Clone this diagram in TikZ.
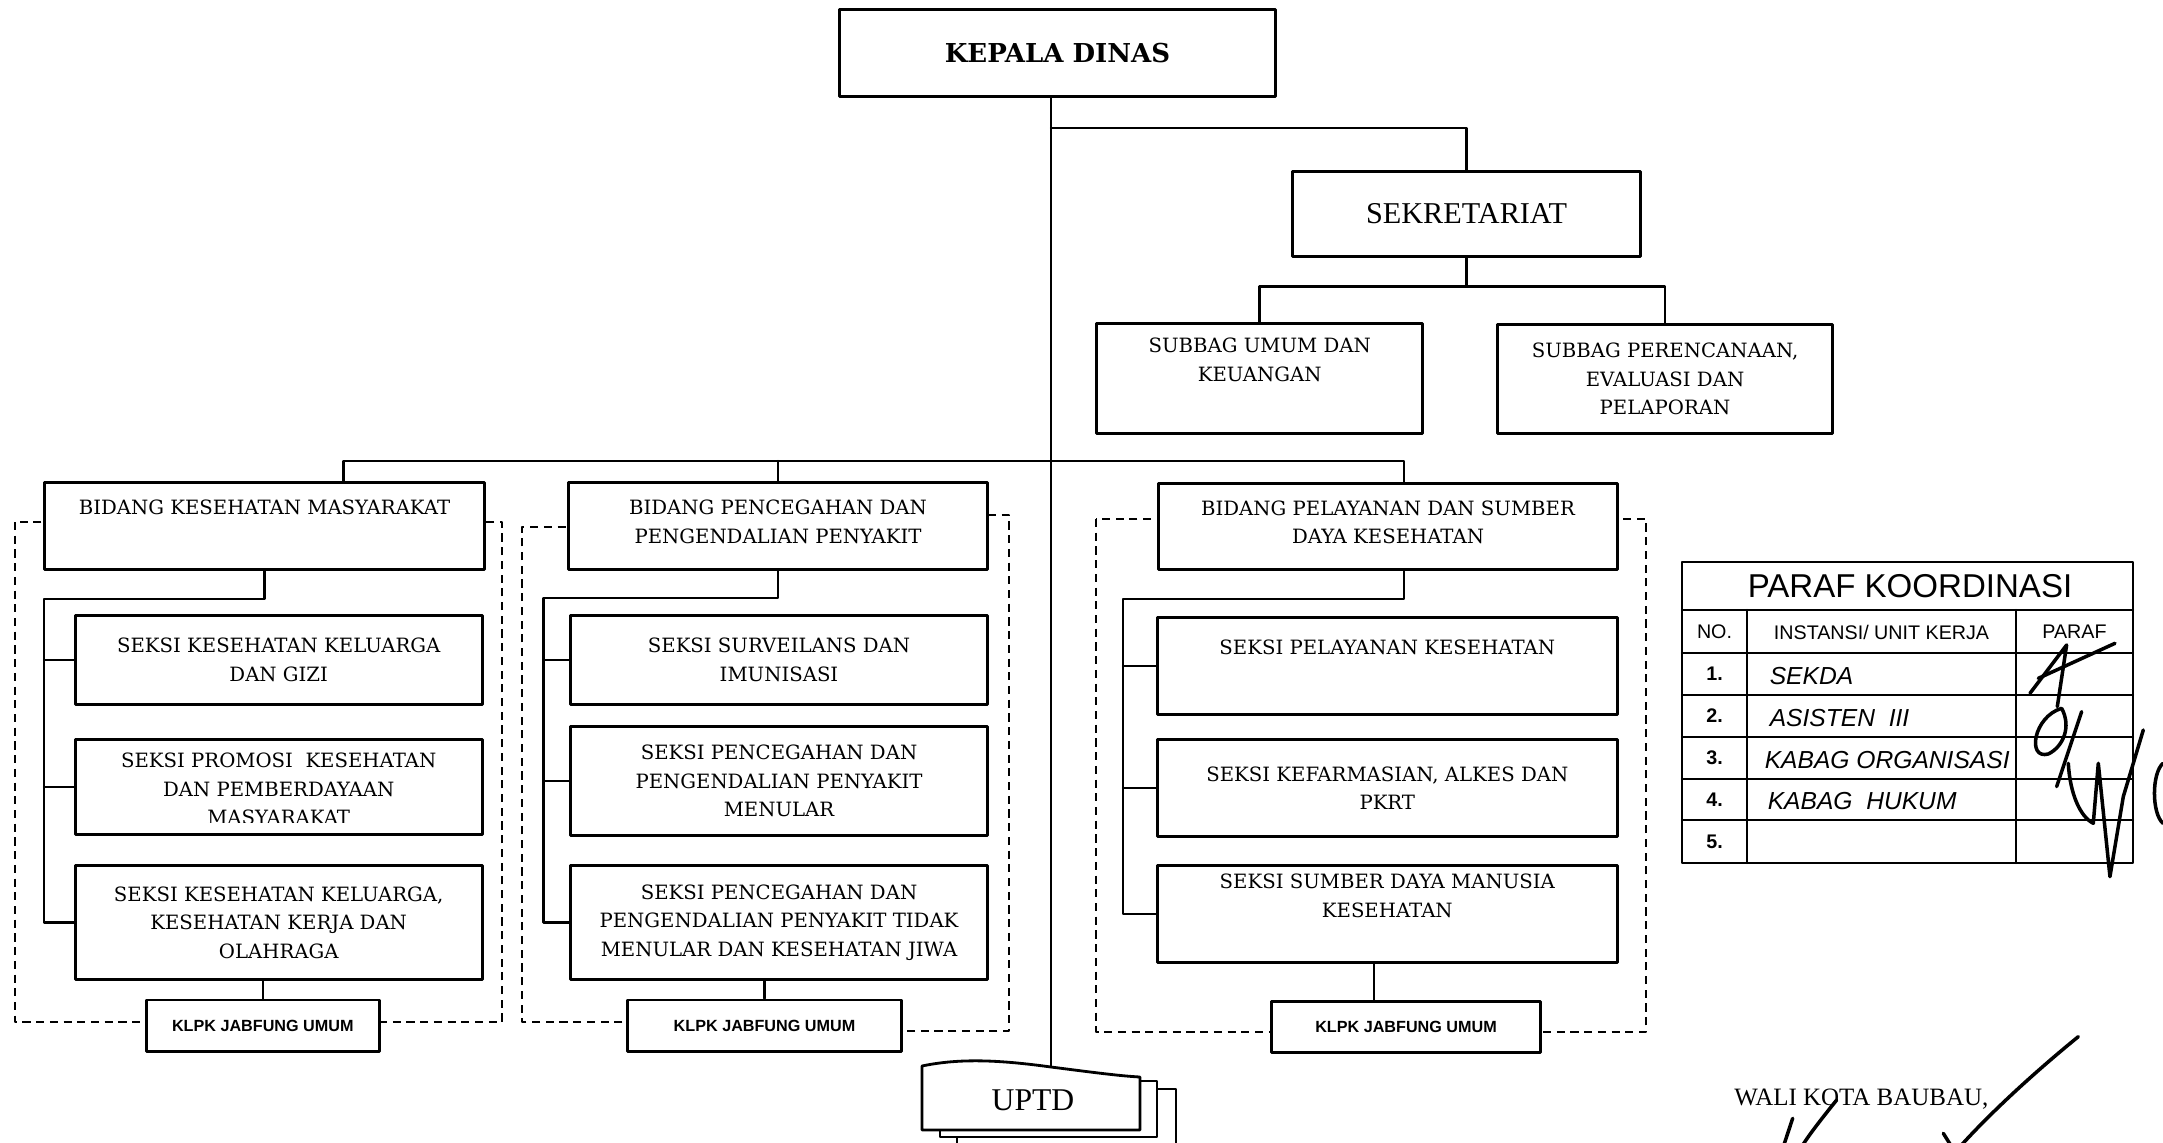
\documentclass[tikz,border=0pt]{standalone}
\usepackage{fontspec}
\setmainfont{DejaVu Serif}
\newfontfamily\timesf{Liberation Serif}
\newfontfamily\arialf{Liberation Sans}
\begin{document}
\begin{tikzpicture}[x=0.01cm, y=-0.01cm, line join=round, line cap=round,
	font=\fontsize{5.6}{8.1}\selectfont,
	kotak/.style={draw, line width=0.85pt, fill=white, inner sep=0pt, align=center},
	seksi/.style={kotak, minimum width=#1},
	jabfung/.style={kotak, minimum width=#1, minimum height=0.51cm, font=\arialf\bfseries\fontsize{4.6}{5}\selectfont},
	garis/.style={line width=0.7pt},
	bingkai/.style={line width=0.7pt, dash pattern=on 2.3pt off 1.6pt, line cap=butt},
	ttd/.style={line width=1pt}]
	\useasboundingbox (0,0) rectangle (2163,1142);
	\clip (0,0) rectangle (2163,1142);
	
	\draw[bingkai] (15,522) rectangle (502,1022);
	\draw[bingkai] (700,515) -- (1009,515) -- (1009,1031) -- (760,1031) -- (760,1022) -- (522,1022) -- (522,527) -- (700,527) -- cycle;
	\draw[bingkai] (1096,519) rectangle (1646,1032);
	
	\node[kotak, minimum width=4.35cm, minimum height=0.86cm, font=\bfseries\fontsize{7.4}{9}\selectfont] (kadis) at (1057.5,53) {KEPALA DINAS};
	\node[kotak, minimum width=3.48cm, minimum height=0.84cm, font=\timesf\fontsize{8.6}{10}\selectfont] (sek) at (1466.5,214) {SEKRETARIAT};
	\node[kotak, minimum width=3.26cm, minimum height=1.10cm] (umum) at (1259.7,378.4) {SUBBAG UMUM DAN\\KEUANGAN\\\strut};
	\node[kotak, minimum width=3.34cm, minimum height=1.08cm] (renc) at (1665,379) {SUBBAG PERENCANAAN,\\EVALUASI DAN\\PELAPORAN};
	
	\node[kotak, minimum width=4.39cm, minimum height=0.86cm] (bid1) at (264.5,526) {BIDANG KESEHATAN MASYARAKAT\\\strut};
	\node[kotak, minimum width=4.185cm, minimum height=0.86cm] (bid2) at (778,526) {BIDANG PENCEGAHAN DAN\\PENGENDALIAN PENYAKIT\\[-5.7pt]\mbox{}};
	\node[kotak, minimum width=4.59cm, minimum height=0.86cm] (bid3) at (1388,526.5) {BIDANG PELAYANAN DAN SUMBER\\DAYA KESEHATAN\\[-5.7pt]\mbox{}};
	
	\node[seksi=4.07cm, minimum height=0.88cm] (kesga) at (278.7,660) {SEKSI KESEHATAN KELUARGA\\DAN GIZI};
	\node[seksi=4.07cm, minimum height=0.95cm] (promkes) at (278.7,787) {};
	\begin{scope}
		\clip (promkes.north west) rectangle ([yshift=0.14cm]promkes.south east);
		\node[align=center] (promkestxt) at (278.7,789) {SEKSI PROMOSI\ \ KESEHATAN\\DAN PEMBERDAYAAN\\MASYARAKAT};
	\end{scope}
	\node[seksi=4.07cm, minimum height=1.14cm] (kesker) at (278.7,922.5) {SEKSI KESEHATAN KELUARGA,\\KESEHATAN KERJA DAN\\OLAHRAGA};
	
	\node[seksi=4.167cm, minimum height=0.885cm] (surv) at (779,660) {SEKSI SURVEILANS DAN\\IMUNISASI};
	\node[seksi=4.167cm, minimum height=1.08cm] (p2pm) at (779,781) {SEKSI PENCEGAHAN DAN\\PENGENDALIAN PENYAKIT\\MENULAR};
	\node[seksi=4.167cm, minimum height=1.136cm] (p2ptm) at (779,922.6) {SEKSI PENCEGAHAN DAN\\PENGENDALIAN PENYAKIT TIDAK\\MENULAR DAN KESEHATAN JIWA};
	
	\node[seksi=4.593cm, minimum height=0.974cm] (yankes) at (1387.3,666) {SEKSI PELAYANAN KESEHATAN\\\strut};
	\node[seksi=4.593cm, minimum height=0.963cm] (farmalkes) at (1387.3,788) {SEKSI KEFARMASIAN, ALKES DAN\\PKRT};
	\node[seksi=4.593cm, minimum height=0.963cm] (sdmk) at (1387.3,914) {SEKSI SUMBER DAYA MANUSIA\\KESEHATAN\\\strut};
	
	\node[jabfung=2.33cm] (jf1) at (262.8,1025.5) {KLPK JABFUNG UMUM};
	\node[jabfung=2.735cm] (jf2) at (764.5,1025.5) {KLPK JABFUNG UMUM};
	\node[jabfung=2.69cm] (jf3) at (1406,1027) {KLPK JABFUNG UMUM};
	
	\coordinate (uptdtop) at (1051,1067);
	\coordinate (sekbus) at (1051,128);
	\coordinate (bb1) at (343.5,461);
	\coordinate (bb3) at (1404,461);
	\coordinate (t1) at (44,599);
	\coordinate (t2) at (543.5,598);
	\coordinate (t3) at (1123,599);
	\coordinate (j3) at (1374,1001);
	
	\draw[line width=0.4pt] (kadis.south -| uptdtop) -- (uptdtop);
	\draw[garis] (sekbus) -| (sek.north);
	\draw[garis] (sek.south) -- ++(0,29) coordinate (subbus);
	\draw[garis] (umum.north) |- (subbus) -| (renc.north);
	
	\draw[garis] (bid1.north -| bb1) -- (bb1) -- (bb3) -- (bid3.north -| bb3);
	\draw[garis] (bid2.north) -- (bid2.north |- bb1);
	
	\draw[garis] (bid1.south) |- (t1) |- (kesker.west);
	\draw[garis] (t1 |- kesga.west) -- (kesga.west);
	\draw[garis] (t1 |- promkes.west) -- (promkes.west);
	\draw[garis] (bid2.south) |- (t2) |- (p2ptm.west);
	\draw[garis] (t2 |- surv.west) -- (surv.west);
	\draw[garis] (t2 |- p2pm.west) -- (p2pm.west);
	\draw[garis] (bid3.south -| bb3) |- (t3) |- (sdmk.west);
	\draw[garis] (t3 |- yankes.west) -- (yankes.west);
	\draw[garis] (t3 |- farmalkes.west) -- (farmalkes.west);
	
	\draw[garis] (jf1.north) -- (jf1.north |- kesker.south);
	\draw[garis] (jf2.north) -- (jf2.north |- p2ptm.south);
	\draw[garis] (j3) -- (j3 |- sdmk.south);
	
	\filldraw[fill=white, line width=0.7pt] (957,1089) rectangle (1176,1160);
	\filldraw[fill=white, line width=0.7pt] (940,1081) rectangle (1157,1137);
	\filldraw[fill=white, line width=0.8pt] (922,1066) .. controls (960,1058) and (1000,1060) .. (uptdtop) .. controls (1090,1072) and (1120,1076) .. (1140,1077) -- (1140,1130) -- (922,1130) -- cycle;
	\node[font=\timesf\fontsize{9}{10}\selectfont] (uptd) at (1033,1100) {UPTD};
	
	\begin{scope}[line width=0.6pt, font=\arialf\fontsize{5.6}{6.5}\selectfont]
		\draw (1682,562) rectangle (2133,863);
		\draw (1682,610) -- (2133,610);
		\foreach \y in {653,695,737,779,820}
		\draw (1682,\y) -- (2133,\y);
		\draw (1747,610) -- (1747,863);
		\draw (2016,610) -- (2016,863);
		\node[font=\arialf\fontsize{9.4}{11}\selectfont] (judul) at (1910,586) {PARAF KOORDINASI};
		\node (hno) at (1714.5,632) {NO.};
		\node (hunit) at (1881.5,632) {INSTANSI/ UNIT KERJA};
		\node (hparaf) at (2074.5,632) {PARAF};
		\foreach \n/\y in {1/674,2/716,3/758,4/800,5/841.5}
		\node[font=\arialf\bfseries\fontsize{5.6}{6.5}\selectfont] (no\n) at (1714.5,\y) {\n.};
		\node[anchor=west, font=\arialf\itshape\fontsize{7}{8}\selectfont] (isi1) at (1757,676) {SEKDA};
		\node[anchor=west, font=\arialf\itshape\fontsize{7}{8}\selectfont] (isi2) at (1757,718) {ASISTEN\ \ III};
		\node[anchor=west, font=\arialf\itshape\fontsize{7}{8}\selectfont] (isi3) at (1752,760) {KABAG ORGANISASI};
		\node[anchor=west, font=\arialf\itshape\fontsize{7}{8}\selectfont] (isi4) at (1755,801) {KABAG\ \ HUKUM};
	\end{scope}
	
	\begin{scope}[shift={(1650,530)}, scale=0.3333, ttd]
		\draw (1140,490) -- (1250,345) -- (1222,530);
		\draw (1165,445) -- (1395,340);
		\draw (1235,535) .. controls (1150,560) and (1130,690) .. (1195,672) .. controls (1240,650) and (1265,590) .. (1235,535);
		\draw (1295,545) -- (1220,770);
		\draw (1255,700) .. controls (1260,790) and (1290,860) .. (1330,880) -- (1345,700) -- (1380,1040) -- (1420,800) -- (1480,600);
		\draw (1539,700) .. controls (1505,730) and (1505,850) .. (1539,880);
	\end{scope}
	
	\node[anchor=base west, font=\timesf\fontsize{7.1}{9}\selectfont] (walikota) at (1722,1105) {WALI KOTA BAUBAU,};
	\begin{scope}[shift={(1650,1000)}, scale=0.3333, ttd]
		\draw (1285,110) .. controls (1150,220) and (1020,340) .. (930,440);
		\draw (560,300) .. controls (520,350) and (480,400) .. (455,440);
		\draw (428,355) -- (400,440);
		\draw (880,400) -- (905,440);
	\end{scope}
\end{tikzpicture}
\end{document}
